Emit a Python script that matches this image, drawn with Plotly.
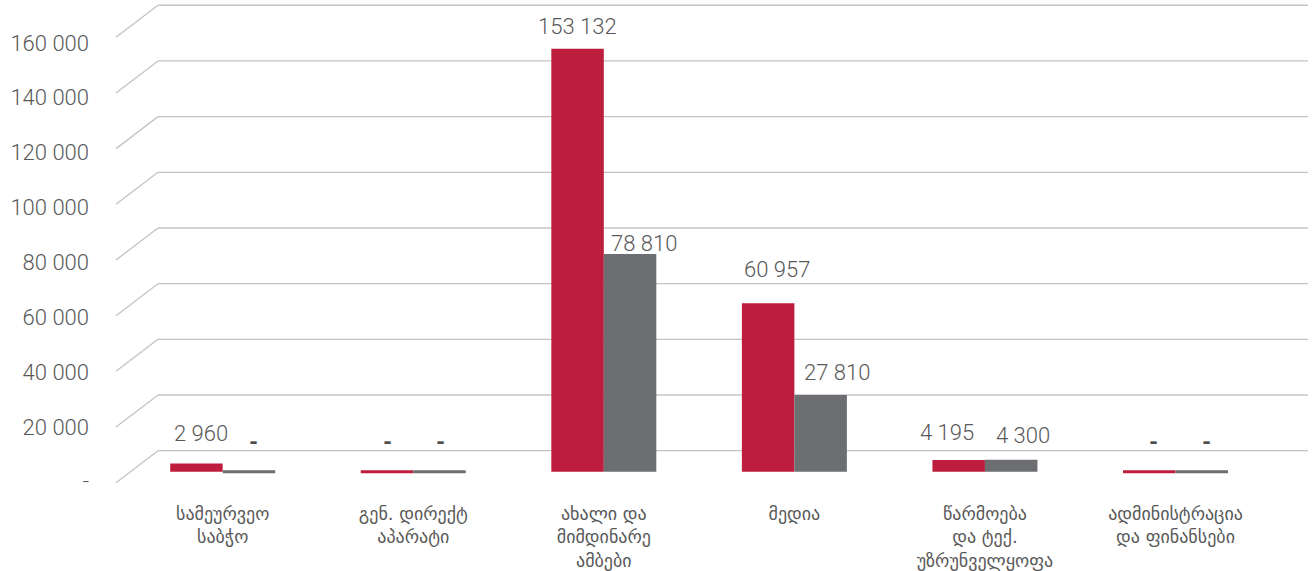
import plotly.graph_objects as go

# ---------------- data ----------------
categories = [
    "სამეურვეო<br>საბჭო",
    "გენ. დირექტ<br>აპარატი",
    "ახალი და<br>მიმდინარე<br>ამბები",
    "მედია",
    "წარმოება<br>და ტექ.<br>უზრუნველყოფა",
    "ადმინისტრაცია<br>და ფინანსები",
]
red_values = [2960, 0, 153132, 60957, 4195, 0]
gray_values = [0, 0, 78810, 27810, 4300, 0]

y_tick_values = [0, 20000, 40000, 60000, 80000, 100000, 120000, 140000, 160000]
y_tick_labels = ["-", "20 000", "40 000", "60 000", "80 000", "100 000",
                 "120 000", "140 000", "160 000"]

# label placement tweaks (pixels): horizontal shift and height above bar top
red_label_dx = [5, 0, 0, 9, -12, 4]
red_label_dy = [30, 30, 22, 34, 28, 30]
gray_label_dx = [5, 1, 14, 16, 12, 5]
gray_label_dy = [30, 30, 11, 22, 24, 30]

RED = "#BE1E3D"
GRAY = "#6D6E71"
TEXT = "#595959"
GRID = "#C4C4C4"

def fmt(v):
    return "-" if v == 0 else f"{v:,}".replace(",", " ")

fig = go.Figure()
fig.add_trace(go.Bar(
    x=categories, y=red_values, marker=dict(color=RED,
        line=dict(color=RED, width=[0 if v else 3 for v in red_values])),
    hoverinfo="skip", showlegend=False))
fig.add_trace(go.Bar(
    x=categories, y=gray_values, marker=dict(color=GRAY,
        line=dict(color=GRAY, width=[0 if v else 3 for v in gray_values])),
    hoverinfo="skip", showlegend=False))

# value labels
half_bar = 26.25
annotations = []
for vals, dxs, dys, sign in [(red_values, red_label_dx, red_label_dy, -1),
                             (gray_values, gray_label_dx, gray_label_dy, 1)]:
    for c, v, dx, dy in zip(categories, vals, dxs, dys):
        annotations.append(dict(
            x=c, y=v, xref="x", yref="y", text=fmt(v), showarrow=False,
            xanchor="center", yanchor="middle",
            xshift=sign * half_bar + dx, yshift=dy,
            font=dict(family="Roboto, DejaVu Sans", size=22,
                      color="#4D4D4D" if v == 0 else TEXT,
                      weight=800 if v == 0 else 300)))

# perspective gridlines (back wall + floor-side diagonal)
diag_units = 11494  # 32px expressed in y2 units
x_back = (158 - 116) / 1196
x_end = (1308 - 116) / 1196
shapes = []
for v in y_tick_values:
    shapes.append(dict(type="line", xref="paper", yref="y2",
                       x0=x_back, x1=x_end, y0=v, y1=v,
                       line=dict(color=GRID, width=1.3), layer="below"))
    shapes.append(dict(type="line", xref="paper", yref="y2",
                       x0=0, x1=x_back, y0=v - diag_units, y1=v,
                       line=dict(color=GRID, width=1.3), layer="below"))

fig.update_layout(
    width=1312, height=571,
    margin=dict(l=116, r=0, t=0, b=70, autoexpand=False),
    paper_bgcolor="white", plot_bgcolor="white",
    barmode="group", bargap=0.449, bargroupgap=0,
    font=dict(family="Roboto, DejaVu Sans", color=TEXT),
    annotations=annotations, shapes=shapes,
    xaxis=dict(range=[-0.5599, 5.7163], showgrid=False, zeroline=False,
               showline=False, ticks="", fixedrange=True,
               tickfont=dict(family="DejaVu Sans", size=18, color=TEXT),
               ticklabelstandoff=0),
    yaxis=dict(range=[-10608, 170782], visible=False, fixedrange=True),
    yaxis2=dict(range=[-18068, 161889], overlaying="y", anchor="x",
                visible=False, fixedrange=True),
    yaxis3=dict(range=[-7036, 175611], overlaying="y", anchor="x",
                side="left", showgrid=False, zeroline=False, showline=False,
                tickvals=y_tick_values, ticktext=y_tick_labels, ticks="",
                ticklabelstandoff=26, fixedrange=True,
                tickfont=dict(family="Roboto, DejaVu Sans", size=22,
                              color=TEXT, weight=300)),
)
fig.add_trace(go.Scatter(x=[categories[0]], y=[None], yaxis="y2",
                         showlegend=False, hoverinfo="skip"))
fig.add_trace(go.Scatter(x=[categories[0]], y=[None], yaxis="y3",
                         showlegend=False, hoverinfo="skip"))

fig.write_html("out.html", config={"displayModeBar": False},
               post_script="document.body.style.margin='0';")
